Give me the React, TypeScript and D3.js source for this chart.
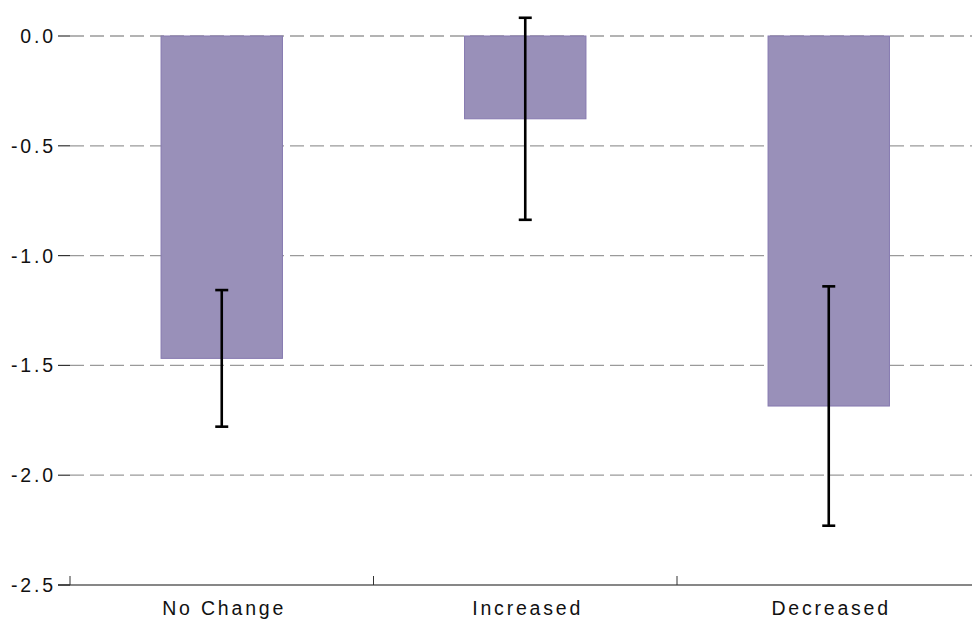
import React from "react";
import * as d3 from "d3";

const categories = ["No Change", "Increased", "Decreased"];
const means = [-1.468, -0.377, -1.685];
const errors = [0.311, 0.46, 0.545];
const yTicks = [0, -0.5, -1.0, -1.5, -2.0, -2.5];

const W = 972;
const H = 619;
const FONT = "'Liberation Sans', Arial, sans-serif";
const FS = 19.5;
const LS = 2.8;

export default function App() {
  const y = d3.scaleLinear().domain([-2.5, 0]).range([585, 36]);
  const x = d3.scaleBand().domain(categories).range([70, 980.5]).padding(0);
  const step = x.step();
  const barW = step * 0.4;
  const axisY = y(-2.5);

  return (
    <svg
      width={W}
      height={H}
      style={{ position: "absolute", left: 0, top: 0, background: "#fff" }}
      fontFamily={FONT}
    >
      {/* gridlines */}
      {yTicks.filter((t) => t > -2.5).map((t) => (
        <line
          key={"g" + t}
          x1={70}
          x2={W}
          y1={y(t)}
          y2={y(t)}
          stroke="#9a9a9a"
          strokeWidth={1.3}
          strokeDasharray="14,6"
        />
      ))}
      {/* y tick marks */}
      {yTicks.map((t) => (
        <line key={"t" + t} x1={58} x2={70} y1={y(t)} y2={y(t)} stroke="#333" strokeWidth={1.2} />
      ))}
      {/* y labels */}
      {yTicks.map((t) => (
        <text
          key={"l" + t}
          x={53 + LS}
          y={y(t)}
          dy="0.36em"
          textAnchor="end"
          fontSize={FS}
          letterSpacing={LS}
          fill="#111"
        >
          {t.toFixed(1)}
        </text>
      ))}
      {/* bars */}
      {categories.map((c, i) => {
        const cx = (x(c) as number) + step / 2;
        return (
          <rect
            key={"b" + c}
            x={cx - barW / 2}
            y={y(0)}
            width={barW}
            height={y(means[i]) - y(0)}
            fill="#9990b9"
            stroke="#8679b0"
            strokeWidth={1}
          />
        );
      })}
      {/* error bars */}
      {categories.map((c, i) => {
        const cx = (x(c) as number) + step / 2;
        const top = y(means[i] + errors[i]);
        const bot = y(means[i] - errors[i]);
        return (
          <g key={"e" + c} stroke="#000" strokeWidth={2.6}>
            <line x1={cx} x2={cx} y1={top} y2={bot} />
            <line x1={cx - 6.5} x2={cx + 6.5} y1={top} y2={top} />
            <line x1={cx - 6.5} x2={cx + 6.5} y1={bot} y2={bot} />
          </g>
        );
      })}
      {/* x axis */}
      <line x1={58} x2={W} y1={axisY} y2={axisY} stroke="#111" strokeWidth={1.2} />
      {categories.map((c) => (
        <line
          key={"xt" + c}
          x1={x(c) as number}
          x2={x(c) as number}
          y1={axisY}
          y2={axisY - 9}
          stroke="#333"
          strokeWidth={1}
        />
      ))}
      {categories.map((c) => (
        <text
          key={"xl" + c}
          x={(x(c) as number) + step / 2 + LS / 2 + 1}
          y={615}
          textAnchor="middle"
          fontSize={FS}
          letterSpacing={LS}
          fill="#111"
        >
          {c}
        </text>
      ))}
    </svg>
  );
}
